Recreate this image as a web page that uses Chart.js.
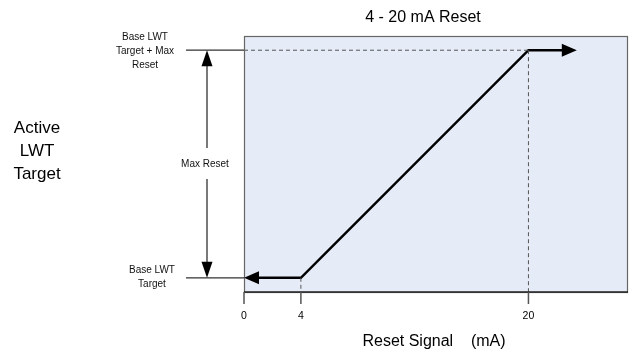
<!DOCTYPE html>
<html><head><meta charset="utf-8">
<script src="https://cdn.jsdelivr.net/npm/chart.js@4/dist/chart.umd.min.js"></script>
<style>html,body{margin:0;padding:0;background:#fff}#wrap{width:629px;height:352px;position:relative}</style>
</head><body><div id="wrap"><canvas id="c" width="629" height="352"></canvas></div>
<script>
// Data
const xTicks = [0, 4, 20];
const xRange = [0, 27];
const yRange = [-1, 17];
const baseLevel = 0;
const maxLevel = 16;
const resetX = [0, 4, 20, 23.4];
const resetY = [0, 0, 16, 16];
const titleText = '4 \u2011 20 mA Reset';
const xTitle = 'Reset Signal    (mA)';
const yTitle = ['Active', 'LWT', 'Target'];
const topLabel = ['Base LWT', 'Target + Max', 'Reset'];
const baseLabel = ['Base LWT', 'Target'];
const spanLabel = 'Max Reset';

const F = 'Arial, "Liberation Sans", sans-serif';
const pts = resetX.map((x, i) => ({x, y: resetY[i]}));

function tri(ctx, tx, ty, dir, len, half) {
  ctx.beginPath();
  if (dir === 'left') { ctx.moveTo(tx, ty); ctx.lineTo(tx + len, ty - half); ctx.lineTo(tx + len, ty + half); }
  if (dir === 'right') { ctx.moveTo(tx, ty); ctx.lineTo(tx - len, ty - half); ctx.lineTo(tx - len, ty + half); }
  if (dir === 'up') { ctx.moveTo(tx, ty); ctx.lineTo(tx - half, ty + len); ctx.lineTo(tx + half, ty + len); }
  if (dir === 'down') { ctx.moveTo(tx, ty); ctx.lineTo(tx - half, ty - len); ctx.lineTo(tx + half, ty - len); }
  ctx.closePath(); ctx.fill();
}

const deco = {
  id: 'deco',
  beforeDatasetsDraw(chart) {
    const {ctx, chartArea: a} = chart;
    ctx.save();
    ctx.fillStyle = '#E6ECF7';
    ctx.fillRect(a.left, a.top, a.right - a.left, a.bottom - a.top);
    ctx.restore();
  },
  afterDatasetsDraw(chart) {
    const {ctx, chartArea: a, scales: {x, y}} = chart;
    ctx.save();
    // box border
    ctx.strokeStyle = '#666'; ctx.lineWidth = 1.2;
    ctx.strokeRect(a.left + 0.5, a.top + 0.5, a.right - a.left - 1, a.bottom - a.top);
    ctx.strokeStyle = '#222'; ctx.lineWidth = 1.3;
    ctx.beginPath(); ctx.moveTo(a.left, a.bottom); ctx.lineTo(a.right, a.bottom); ctx.stroke();
    // ticks + labels
    ctx.strokeStyle = '#555'; ctx.lineWidth = 1.5;
    ctx.fillStyle = '#000'; ctx.font = '10.5px ' + F; ctx.textAlign = 'center'; ctx.textBaseline = 'middle';
    xTicks.forEach(v => {
      const px = x.getPixelForValue(v);
      ctx.beginPath(); ctx.moveTo(px, a.bottom); ctx.lineTo(px, a.bottom + 12); ctx.stroke();
      ctx.fillText(String(v), px, a.bottom + 24);
    });
    // arrowheads on the reset line
    ctx.fillStyle = '#000';
    const n = pts.length;
    tri(ctx, x.getPixelForValue(pts[0].x), y.getPixelForValue(pts[0].y), 'left', 15, 6.5);
    tri(ctx, x.getPixelForValue(pts[n - 1].x), y.getPixelForValue(pts[n - 1].y), 'right', 15, 6.5);
    // left reference lines
    const yb = y.getPixelForValue(baseLevel), ym = y.getPixelForValue(maxLevel);
    const lx0 = a.left - 58;
    ctx.strokeStyle = '#333'; ctx.lineWidth = 1.2;
    ctx.beginPath(); ctx.moveTo(lx0, ym); ctx.lineTo(a.left, ym); ctx.moveTo(lx0, yb); ctx.lineTo(a.left, yb); ctx.stroke();
    // double arrow
    const ax = a.left - 37;
    const mid = (yb + ym) / 2;
    ctx.strokeStyle = '#333'; ctx.lineWidth = 1.3;
    ctx.beginPath(); ctx.moveTo(ax, ym + 14); ctx.lineTo(ax, mid - 16); ctx.moveTo(ax, mid + 15); ctx.lineTo(ax, yb - 14); ctx.stroke();
    ctx.fillStyle = '#000';
    tri(ctx, ax, ym, 'up', 16, 5.5);
    tri(ctx, ax, yb, 'down', 16, 5.5);
    // labels
    ctx.font = '10px ' + F; ctx.fillStyle = '#111';
    ctx.fillText(spanLabel, ax - 2, mid);
    topLabel.forEach((t, i) => ctx.fillText(t, a.left - 99, ym - 13 + i * 14));
    baseLabel.forEach((t, i) => ctx.fillText(t, a.left - 92, yb - 8 + i * 14));
    ctx.font = '17px ' + F; ctx.fillStyle = '#000';
    yTitle.forEach((t, i) => ctx.fillText(t, 37, 128 + i * 23));
    ctx.font = '16px ' + F;
    ctx.fillText(titleText, 423, 18);
    ctx.fillText(xTitle, 434, 342);
    ctx.restore();
  }
};

new Chart(document.getElementById('c'), {
  type: 'scatter',
  data: {
    datasets: [
      {data: [{x: xTicks[0], y: maxLevel}, {x: xTicks[2], y: maxLevel}], showLine: true, borderColor: '#555', borderWidth: 1, borderDash: [4, 3], pointRadius: 0},
      {data: [{x: xTicks[2], y: maxLevel}, {x: xTicks[2], y: yRange[0]}], showLine: true, borderColor: '#555', borderWidth: 1, borderDash: [4, 3], pointRadius: 0},
      {data: [{x: xTicks[1], y: baseLevel}, {x: xTicks[1], y: yRange[0]}], showLine: true, borderColor: '#555', borderWidth: 1, borderDash: [4, 3], pointRadius: 0},
      {data: pts.slice(0, -1).concat([{x: pts[pts.length - 1].x - 0.6, y: pts[pts.length - 1].y}]).map((p, i) => i === 0 ? {x: p.x + 0.6, y: p.y} : p), showLine: true, borderColor: '#000', borderWidth: 2.5, pointRadius: 0, borderJoinStyle: 'miter'}
    ]
  },
  options: {
    responsive: false, animation: false,
    layout: {padding: {left: 244, top: 36, right: 1, bottom: 60}},
    plugins: {legend: {display: false}, tooltip: {enabled: false}},
    scales: {
      x: {type: 'linear', display: false, min: xRange[0], max: xRange[1]},
      y: {type: 'linear', display: false, min: yRange[0], max: yRange[1]}
    }
  },
  plugins: [deco]
});
</script></body></html>
